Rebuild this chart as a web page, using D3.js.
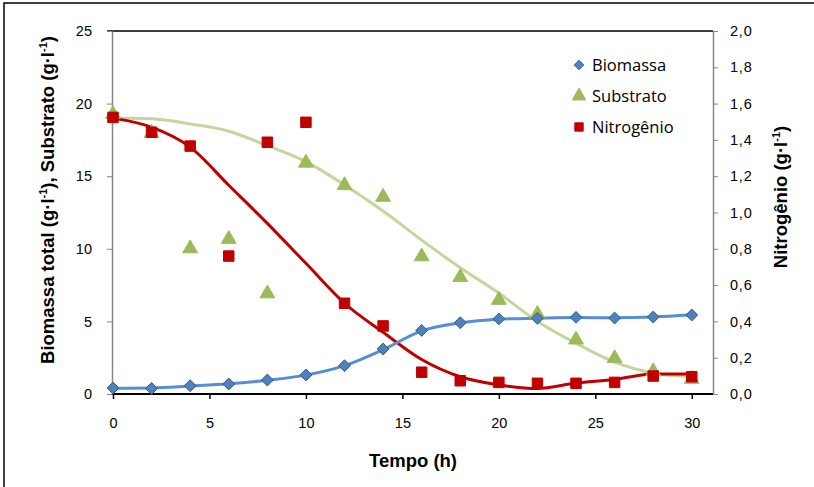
<!DOCTYPE html>
<html>
<head>
<meta charset="utf-8">
<script src="https://cdn.jsdelivr.net/npm/d3@7"></script>
<style>
  body { margin: 0; background: #fff; }
  svg text { font-family: "Liberation Sans", Arial, sans-serif; }
  .legend text { font-family: "Open Sans", "Noto Sans", sans-serif; }
</style>
</head>
<body>
<svg width="814" height="487"></svg>
<script>
// measured time points (h)
var tempo = [0, 2, 4, 6, 8, 10, 12, 14, 16, 18, 20, 22, 24, 26, 28, 30];

// experimental data
var biomassa   = [0.41, 0.38, 0.57, 0.69, 0.96, 1.31, 1.95, 3.1, 4.38, 4.91, 5.17, 5.21, 5.28, 5.23, 5.3, 5.44];
var substrato  = [19.2, 17.9, 9.95, 10.6, 6.85, 15.85, 14.3, 13.5, 9.4, 7.97, 6.4, 5.44, 3.67, 2.39, 1.49, 0.96];
var nitrogenio = [1.524, 1.442, 1.366, 0.76, 1.387, 1.497, 0.50, 0.375, 0.12, 0.073, 0.064, 0.059, 0.059, 0.064, 0.099, 0.095];

// model curves (same time points)
var biomassaModelo   = [0.4, 0.42, 0.55, 0.7, 0.95, 1.3, 1.95, 3.05, 4.35, 4.9, 5.15, 5.22, 5.27, 5.25, 5.3, 5.45];
var substratoModelo  = [19.0, 18.95, 18.6, 18.1, 17.1, 16.0, 14.4, 12.6, 10.6, 8.7, 6.95, 5.0, 3.5, 2.2, 1.45, 1.2];
var nitrogenioModelo = [1.52, 1.47, 1.36, 1.15, 0.94, 0.72, 0.50, 0.34, 0.19, 0.095, 0.05, 0.03, 0.06, 0.08, 0.11, 0.11];

var xTicks = [0, 5, 10, 15, 20, 25, 30];
var yTicks = [0, 5, 10, 15, 20, 25];
var y2Ticks = [0, 0.2, 0.4, 0.6, 0.8, 1.0, 1.2, 1.4, 1.6, 1.8, 2.0];

var svg = d3.select("svg");
var pLeft = 112, pRight = 713, pTop = 31, pBottom = 394;

var x = d3.scaleLinear().domain([0, 31.1]).range([pLeft + 1, pRight]);
var y = d3.scaleLinear().domain([0, 25]).range([pBottom, pTop]);
var y2 = d3.scaleLinear().domain([0, 2]).range([pBottom, pTop]);

// outer chart border (only top/left show in the picture)
svg.append("rect").attr("x", 4).attr("y", 3).attr("width", 830).attr("height", 500)
  .attr("fill", "none").attr("stroke", "#000").attr("stroke-width", 1.5);

// plot area top border
svg.append("line").attr("x1", pLeft - 5).attr("x2", pRight).attr("y1", pTop).attr("y2", pTop)
  .attr("stroke", "#000").attr("stroke-width", 1.5);

// axes
var xAxis = svg.append("g").attr("transform", "translate(0," + pBottom + ")")
  .call(d3.axisBottom(x).tickValues(xTicks).tickSize(5).tickSizeOuter(0).tickPadding(19));
xAxis.select(".domain").attr("stroke", "#000").attr("stroke-width", 2)
  .attr("d", "M" + pLeft + ",0H" + pRight);
xAxis.selectAll(".tick line").attr("stroke", "#000").attr("stroke-width", 1.5);

var yAxis = svg.append("g").attr("transform", "translate(" + pLeft + ",0)")
  .call(d3.axisLeft(y).tickValues(yTicks).tickSize(5).tickSizeOuter(0).tickPadding(15));
yAxis.select(".domain").attr("stroke", "#868686").attr("stroke-width", 1.5);
yAxis.selectAll(".tick line").attr("stroke", "#868686");

var y2Axis = svg.append("g").attr("transform", "translate(" + pRight + ",0)")
  .call(d3.axisRight(y2).tickValues(y2Ticks).tickSize(5).tickSizeOuter(0).tickPadding(12)
    .tickFormat(function(d) { return d3.format(".1f")(d).replace(".", ","); }));
y2Axis.select(".domain").attr("stroke", "#868686").attr("stroke-width", 1.5);
y2Axis.selectAll(".tick line").attr("stroke", "#868686");
y2Axis.selectAll(".tick text").style("letter-spacing", "0.8px");

svg.selectAll(".tick text").style("font-size", "14.5px").attr("fill", "#000")
  .style("font-family", "Liberation Sans, Arial, sans-serif");

// axis titles
svg.append("text").attr("x", 413).attr("y", 467).attr("text-anchor", "middle")
  .attr("font-size", 18.5).attr("font-weight", "bold").text("Tempo (h)");

var t1 = svg.append("text").attr("transform", "translate(54,200) rotate(-90)")
  .attr("text-anchor", "middle").attr("font-size", 18.5).attr("font-weight", "bold");
t1.append("tspan").text("Biomassa total (g·l");
t1.append("tspan").attr("font-size", 11).attr("dy", -7).text("-1");
t1.append("tspan").attr("dy", 7).text("), Substrato (g·l");
t1.append("tspan").attr("font-size", 11).attr("dy", -7).text("-1");
t1.append("tspan").attr("dy", 7).text(")");

var t2 = svg.append("text").attr("transform", "translate(787,197) rotate(-90)")
  .attr("text-anchor", "middle").attr("font-size", 18.5).attr("font-weight", "bold");
t2.append("tspan").text("Nitrogênio (g·l");
t2.append("tspan").attr("font-size", 11).attr("dy", -7).text("-1");
t2.append("tspan").attr("dy", 7).text(")");

// model lines
var plot = svg.append("g");
function modelLine(vals, sc, color) {
  var line = d3.line()
    .x(function(d, i) { return x(tempo[i]); })
    .y(function(d) { return sc(d); })
    .curve(d3.curveMonotoneX);
  plot.append("path").datum(vals).attr("d", line)
    .attr("fill", "none").attr("stroke", color).attr("stroke-width", 3);
}
modelLine(substratoModelo, y, "#c3d69b");
modelLine(nitrogenioModelo, y2, "#c00000");
modelLine(biomassaModelo, y, "#558ed5");

// markers
var sym = {
  diamond: d3.symbol().type(d3.symbolDiamond2).size(90),
  triangle: d3.symbol().type(d3.symbolTriangle).size(95),
  square: d3.symbol().type(d3.symbolSquare).size(110)
};
function markers(vals, sc, shape, fill, stroke, dy) {
  plot.append("g").selectAll("path").data(vals).enter().append("path")
    .attr("d", sym[shape])
    .attr("transform", function(d, i) { return "translate(" + x(tempo[i]) + "," + (sc(d) + (dy || 0)) + ")"; })
    .attr("fill", fill).attr("stroke", stroke).attr("stroke-width", 1);
}
markers(substrato, y, "triangle", "#9bbb59", "#9bbb59", -1);
markers(nitrogenio, y2, "square", "#c00000", "#c00000");
markers(biomassa, y, "diamond", "#4f81bd", "#385d8a");

// legend
var legendItems = [
  { name: "Biomassa", shape: "diamond", fill: "#4f81bd", stroke: "#4f81bd" },
  { name: "Substrato", shape: "triangle", fill: "#9bbb59", stroke: "#9bbb59" },
  { name: "Nitrogênio", shape: "square", fill: "#c00000", stroke: "#c00000" }
];
var legend = svg.append("g").attr("class", "legend");
legendItems.forEach(function(it, i) {
  var gy = 65 + i * 31;
  var s = it.shape == "square" ? d3.symbol().type(d3.symbolSquare).size(70)
        : it.shape == "diamond" ? d3.symbol().type(d3.symbolDiamond2).size(65)
        : d3.symbol().type(d3.symbolTriangle).size(80);
  legend.append("path").attr("d", s).attr("transform", "translate(579," + gy + ")")
    .attr("fill", it.fill).attr("stroke", it.stroke);
  legend.append("text").attr("x", 592).attr("y", gy + 6).attr("font-size", 16.5)
    .attr("fill", "#000").text(it.name);
});
</script>
</body>
</html>
